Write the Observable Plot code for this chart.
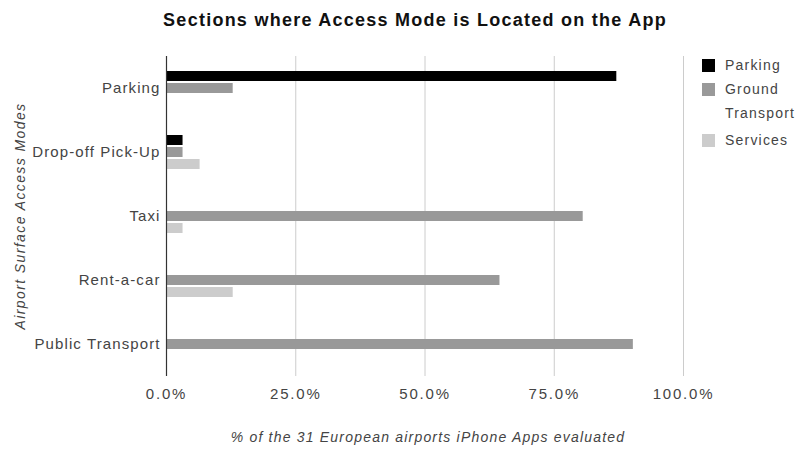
<!DOCTYPE html>
<html>
<head>
<meta charset="utf-8">
<script src="https://cdn.jsdelivr.net/npm/d3@7"></script>
<script src="https://cdn.jsdelivr.net/npm/@observablehq/plot@0.6"></script>
<style>
  html, body { margin: 0; padding: 0; background: #fff; }
  #wrap { position: relative; width: 803px; height: 450px; font-family: "Liberation Sans", Arial, sans-serif; }
  #title { position: absolute; left: 415px; top: 20px; transform: translate(-50%, -50%); white-space: nowrap; font-weight: bold; font-size: 18px; color: #111; letter-spacing: 1.25px; }
  #ylab { position: absolute; left: 20px; top: 216px; transform: translate(-50%, -50%) rotate(-90deg); white-space: nowrap; font-style: italic; font-size: 14px; color: #444; letter-spacing: 1.4px; }
  #xlab { position: absolute; left: 428px; top: 437px; transform: translate(-50%, -50%); white-space: nowrap; font-style: italic; font-size: 14px; color: #444; letter-spacing: 1.2px; }
  #legend { position: absolute; left: 702px; top: 58px; font-size: 14px; color: #444; }
  .li { position: absolute; left: 0; white-space: nowrap; }
  .sw { position: absolute; left: 0; width: 13px; height: 13px; }
  .lt { position: absolute; left: 23px; line-height: 24px; letter-spacing: 1.2px; }
  svg g[aria-label="x-axis tick label"] text { letter-spacing: 1.8px; }
  svg g[aria-label="fy-axis tick label"] text { letter-spacing: 1.1px; }
</style>
</head>
<body>
<div id="wrap">
  <div id="chart"></div>
  <div id="title">Sections where Access Mode is Located on the App</div>
  <div id="ylab">Airport Surface Access Modes</div>
  <div id="xlab">% of the 31 European airports iPhone Apps evaluated</div>
  <div id="legend"></div>
</div>
<script>
const categories = ["Parking", "Drop-off Pick-Up", "Taxi", "Rent-a-car", "Public Transport"];
const seriesNames = ["Parking", "Ground Transport", "Services"];
const seriesColors = ["#000000", "#999999", "#cccccc"];
const parking = [87.1, 3.2, 0, 0, 0];
const groundTransport = [12.9, 3.2, 80.6, 64.5, 90.3];
const services = [0, 6.5, 3.2, 12.9, 0];
const xTicks = [0, 25, 50, 75, 100];

const seriesValues = [parking, groundTransport, services];
const data = [];
categories.forEach((c, i) => {
  seriesNames.forEach((s, j) => {
    data.push({category: c, series: s, value: seriesValues[j][i]});
  });
});

const chart = Plot.plot({
  width: 803,
  height: 450,
  marginTop: 56,
  marginBottom: 74,
  marginLeft: 166,
  marginRight: 120,
  style: {fontFamily: '"Liberation Sans", Arial, sans-serif', fontSize: "15px", background: "#fff"},
  x: {domain: [0, 100], axis: null},
  fy: {domain: categories, padding: 0, axis: null},
  y: {domain: seriesNames, paddingInner: 0.16, paddingOuter: 1.14, axis: null},
  color: {domain: seriesNames, range: seriesColors},
  marks: [
    Plot.gridX(xTicks, {stroke: "#cccccc", strokeOpacity: 1}),
    Plot.barX(data.filter(d => d.value > 0), {x: "value", y: "series", fy: "category", fill: "series"}),
    Plot.ruleX([0], {stroke: "#333", strokeWidth: 1.2}),
    Plot.axisX(xTicks, {tickSize: 0, tickPadding: 12, tickFormat: d => d.toFixed(1) + "%", color: "#444", fontSize: 15, label: null}),
    Plot.axisFy({anchor: "left", tickSize: 0, tickPadding: 6, color: "#444", fontSize: 15, label: null})
  ]
});
document.getElementById("chart").appendChild(chart);

const legend = document.getElementById("legend");
const legendRows = [{y: 0, lines: ["Parking"]}, {y: 24, lines: ["Ground", "Transport"]}, {y: 75, lines: ["Services"]}];
seriesNames.forEach((s, j) => {
  const row = document.createElement("div");
  row.className = "li";
  row.style.top = legendRows[j].y + "px";
  const sw = document.createElement("div");
  sw.className = "sw";
  sw.style.background = seriesColors[j];
  sw.style.top = "1px";
  const t = document.createElement("div");
  t.className = "lt";
  t.style.top = "-5px";
  t.innerHTML = legendRows[j].lines.join("<br>");
  row.appendChild(sw);
  row.appendChild(t);
  legend.appendChild(row);
});
</script>
</body>
</html>
